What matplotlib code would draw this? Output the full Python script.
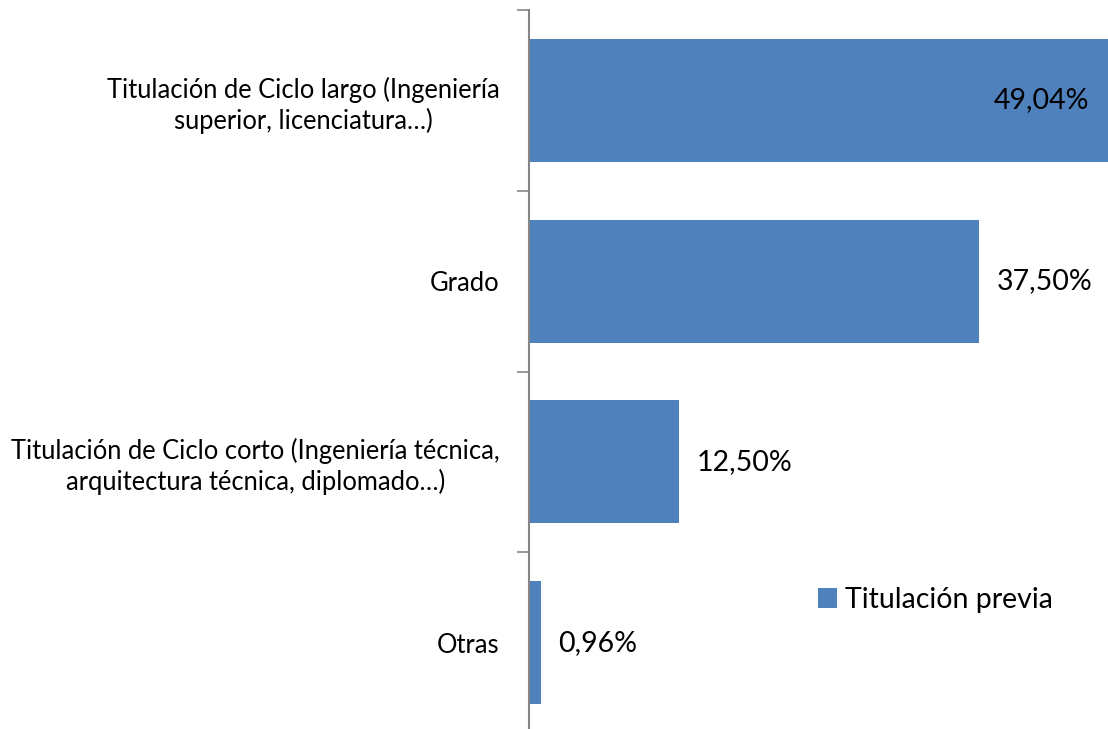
import matplotlib
matplotlib.use("Agg")
import matplotlib.pyplot as plt
from matplotlib.patches import Patch

categories = [
    "Titulación de Ciclo largo (Ingeniería\nsuperior, licenciatura…)",
    "Grado",
    "Titulación de Ciclo corto (Ingeniería técnica,\narquitectura técnica, diplomado…)",
    "Otras",
]
values = [49.04, 37.50, 12.50, 0.96]
value_labels = ["49,04%", "37,50%", "12,50%", "0,96%"]
series_name = "Titulación previa"

plt.rcParams['font.family'] = ['Lato', 'DejaVu Sans']

W, H = 1108, 729
fig = plt.figure(figsize=(W / 100, H / 100), dpi=100)
ax = fig.add_axes([529 / W, -4 / H, 1 - 529 / W, (H - 10 + 4) / H])

color = "#4F81BD"
ypos = list(range(len(categories)))
bars = ax.barh(ypos, values, height=0.68, color=color, zorder=2)

ax.set_ylim(len(categories) - 0.5, -0.5)
ax.set_xlim(0, 48.3)

for sp in ["top", "right", "bottom"]:
    ax.spines[sp].set_visible(False)
ax.spines["left"].set_color("#868686")
ax.spines["left"].set_linewidth(1.5)
ax.spines["left"].set_zorder(3)
ax.set_xticks([])

ax.set_yticks(ypos)
ax.set_yticklabels(categories, fontsize=18.4, color="black", multialignment="center",
                   linespacing=1.22)
ax.tick_params(axis="y", which="major", length=0, pad=21)
ax.set_yticks([i - 0.5 for i in range(len(categories) + 1)], minor=True)
ax.tick_params(axis="y", which="minor", length=9, width=1.2, color="#868686")

for i, (v, lab) in enumerate(zip(values, value_labels)):
    if i == 0:
        ax.annotate(lab, (v, i), xytext=(-20, 0), textcoords="offset points",
                    ha="right", va="center", fontsize=20.5, color="black",
                    annotation_clip=False)
    else:
        ax.annotate(lab, (v, i), xytext=(13, 0), textcoords="offset points",
                    ha="left", va="center", fontsize=20.5, color="black")

handle = Patch(facecolor=color, edgecolor="none")
fig.legend([handle], [series_name], loc="center left",
           bbox_to_anchor=(818 / W, 1 - 600 / H), frameon=False,
           fontsize=20.5, handlelength=0.65, handleheight=0.65, handletextpad=0.3,
           borderpad=0, borderaxespad=0)

fig.savefig("out.png", dpi=100)
